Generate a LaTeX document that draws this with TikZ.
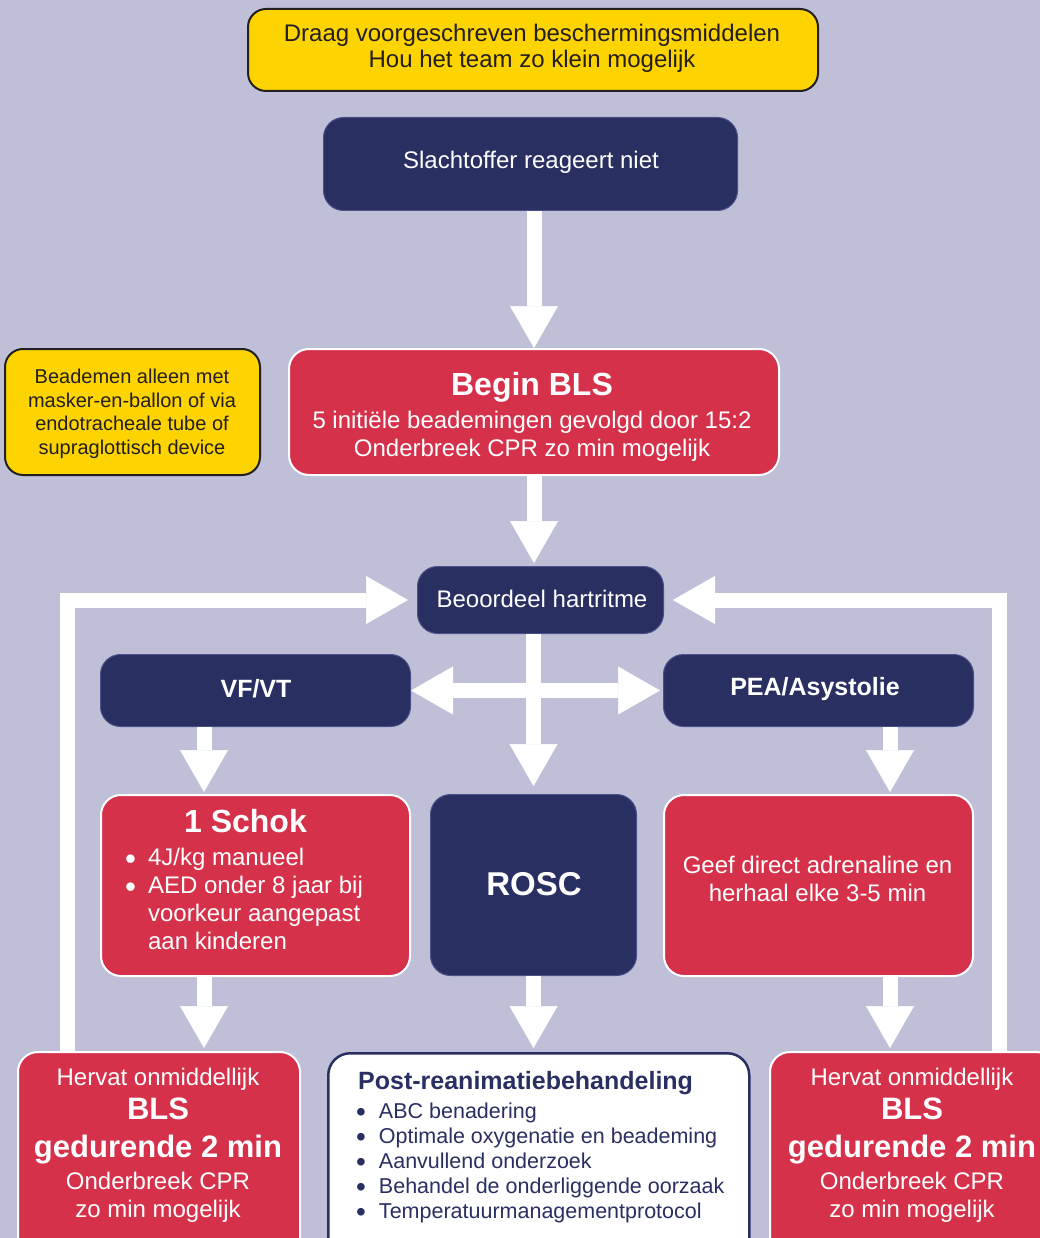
\documentclass[tikz,border=0pt]{standalone}
\usepackage{fontspec}
\setmainfont{Liberation Sans}
\usetikzlibrary{arrows.meta,calc}
\definecolor{bg}{HTML}{BFC0D8}
\definecolor{navy}{HTML}{2A2F62}
\definecolor{navyedge}{HTML}{4A5088}
\definecolor{cred}{HTML}{D6314A}
\definecolor{cyel}{HTML}{FDD300}
\definecolor{ink}{HTML}{231F20}
\newcommand\fsz[1]{\fontsize{#1}{#1}\selectfont}
\newcommand\bul{\raisebox{-0.18em}{\scalebox{1.3}{•}}}
\begin{document}
\begin{tikzpicture}[x=1pt,y=-1pt,
  box/.style={rectangle, inner sep=0pt, anchor=north west},
  navybox/.style={box, rounded corners=20pt, fill=navy, draw=navyedge, line width=1pt},
  redbox/.style={box, rounded corners=20pt, fill=cred, draw=white, line width=2pt},
  yelbox/.style={box, rounded corners=18pt, fill=cyel, draw=ink, line width=2pt},
  postbox/.style={box, rounded corners=22pt, fill=white, draw=navy, line width=2.5pt},
  lbl/.style={anchor=base, inner sep=0pt, text=white, font=\fsz{24}},
  blbl/.style={anchor=base, inner sep=0pt, text=white, font=\bfseries\fsz{#1}},
  flow/.style={draw=white, line width=15pt, -{Triangle[width=48pt,length=42pt,line width=0.5pt]}},
  flowtwo/.style={draw=white, line width=15pt, {Triangle[width=48pt,length=42pt,line width=0.5pt]}-{Triangle[width=48pt,length=42pt,line width=0.5pt]}}
]
\useasboundingbox (0,0) rectangle (1040,1238);
\fill[bg] (0,0) rectangle (1040,1238);
\begin{scope}
\clip (0,0) rectangle (1040,1238);
% coordinates for offset connectors
\coordinate (xa) at (204,0);
\coordinate (xb) at (890,0);
\coordinate (xl) at (67,0);
\coordinate (xr) at (999,0);

% boxes
\node[yelbox, minimum width=570pt, minimum height=82pt] (ppe) at (247,8) {};
\node[navybox, minimum width=414pt, minimum height=93pt] (sl) at (323,117) {};
\node[yelbox, minimum width=255pt, minimum height=126pt] (vent) at (4,348) {};
\node[redbox, minimum width=490pt, minimum height=126pt] (bls) at (288,348) {};
\node[navybox, minimum width=246pt, minimum height=67pt] (beo) at (417,566) {};
\node[navybox, minimum width=310pt, minimum height=72pt] (vf) at (100,654) {};
\node[navybox, minimum width=310pt, minimum height=72pt] (pea) at (663,654) {};
\node[redbox, minimum width=309pt, minimum height=181pt] (schok) at (100,794) {};
\node[navybox, minimum width=206pt, minimum height=181pt] (rosc) at (430,794) {};
\node[redbox, minimum width=309pt, minimum height=181pt] (geef) at (663,794) {};
\node[redbox, minimum width=282pt, minimum height=210pt] (hl) at (17,1051) {};
\node[postbox, minimum width=421pt, minimum height=210pt] (post) at (327,1052) {};
\node[redbox, minimum width=286pt, minimum height=210pt] (hr) at (769,1051) {};

% texts
\node[lbl, text=ink] (ppe1) at (532,42) {Draag voorgeschreven beschermingsmiddelen};
\node[lbl, text=ink] (ppe2) at (532,68) {Hou het team zo klein mogelijk};
\node[lbl] (slt) at (531,169) {Slachtoffer reageert niet};
\node[lbl, text=ink, font=\fsz{20}] (v1) at (132,383) {Beademen alleen met};
\node[lbl, text=ink, font=\fsz{20}] (v2) at (132,407) {masker-en-ballon of via};
\node[lbl, text=ink, font=\fsz{20}] (v3) at (132,430) {endotracheale tube of};
\node[lbl, text=ink, font=\fsz{20}] (v4) at (132,454) {supraglottisch device};
\node[blbl=32] (b1) at (532,395) {Begin BLS};
\node[lbl] (b2) at (532,428) {5 initiële beademingen gevolgd door 15:2};
\node[lbl] (b3) at (532,456) {Onderbreek CPR zo min mogelijk};
\node[lbl] (beot) at (542,607) {Beoordeel hartritme};
\node[blbl=25] (vft) at (256,697) {VF/VT};
\node[blbl=25] (peat) at (815,695) {PEA/Asystolie};
\node[blbl=32] (s1) at (245.5,832) {1 Schok};
\node[anchor=base west, inner sep=0pt, text=white, font=\fontsize{24}{28}\selectfont] (s2) at (125,865)
  {\begin{tabular}[t]{@{}l@{\hspace{12pt}}l@{}}\bul&4J/kg manueel\\\bul&AED onder 8 jaar bij\\&voorkeur aangepast\\&aan kinderen\end{tabular}};
\node[blbl=33] (roscT) at (534,895) {ROSC};
\node[lbl] (g1) at (817.5,873) {Geef direct adrenaline en};
\node[lbl] (g2) at (817.5,901) {herhaal elke 3-5 min};
\foreach \n/\cx in {hl/158, hr/912} {
  \node[lbl] (\n1) at (\cx,1085) {Hervat onmiddellijk};
  \node[blbl=31] (\n2) at (\cx,1119) {BLS};
  \node[blbl=31] (\n3) at (\cx,1157) {gedurende 2 min};
  \node[lbl] (\n4) at (\cx,1189) {Onderbreek CPR};
  \node[lbl] (\n5) at (\cx,1217) {zo min mogelijk};
}
\node[anchor=base west, inner sep=0pt, text=navy, font=\bfseries\fsz{25}] (pt) at (358,1089) {Post-reanimatiebehandeling};
\node[anchor=base west, inner sep=0pt, text=navy, font=\fontsize{21.5}{25}\selectfont] (pl) at (356,1118)
  {\begin{tabular}[t]{@{}l@{\hspace{13pt}}l@{}}\bul&ABC benadering\\\bul&Optimale oxygenatie en beademing\\\bul&Aanvullend onderzoek\\\bul&Behandel de onderliggende oorzaak\\\bul&Temperatuurmanagementprotocol\end{tabular}};

% connectors
\draw[flow] (bls.north |- sl.south) -- (bls.north);
\draw[flow, shorten >=3pt] (bls.south) -- (bls.south |- beo.north);
\draw[flow, shorten >=8pt] (rosc.north |- beo.south) -- (rosc.north);
\draw[flowtwo, shorten >=3pt, shorten <=0pt] (vf.east) -- (pea.west);
\draw[flow, shorten >=2pt] (vf.south -| xa) -- (schok.north -| xa);
\draw[flow, shorten >=2pt] (pea.south -| xb) -- (geef.north -| xb);
\draw[flow, shorten >=3pt] (schok.south -| xa) -- (hl.north -| xa);
\draw[flow, shorten >=4pt] (rosc.south) -- (rosc.south |- post.north);
\draw[flow, shorten >=3pt] (geef.south -| xb) -- (hr.north -| xb);
\draw[flow, shorten >=9pt] (hl.north -| xl) |- (beo.west);
\draw[flow, shorten >=9pt] (hr.north -| xr) |- (beo.east);
\end{scope}
\end{tikzpicture}
\end{document}
